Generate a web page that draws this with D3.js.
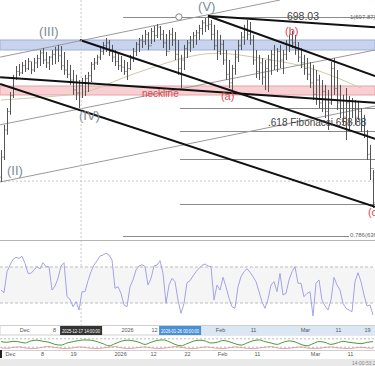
<!DOCTYPE html>
<html><head><meta charset="utf-8">
<script src="https://cdn.jsdelivr.net/npm/d3@7"></script>
<style>
html,body{margin:0;padding:0;background:#fff;}
svg{display:block;font-family:"Liberation Sans",Arial,sans-serif;}
</style></head><body>
<svg id="c" width="375" height="366"></svg>
<script>
// ---- price bars (one per bar index) ----
const highs = [651.5,660.3,666.2,671.8,677.8,680.9,681.6,682.3,683.0,683.7,682.3,683.7,684.8,686.5,687.2,685.8,684.4,686.5,687.6,688.3,
687.9,685.8,683.0,681.3,679.5,677.8,676.0,676.7,677.8,678.8,682.3,683.7,684.8,687.9,689.3,690.7,690.0,688.3,686.5,685.1,
684.4,683.0,682.3,684.8,687.2,689.3,690.7,691.8,693.5,692.8,694.2,694.9,695.6,694.9,693.5,692.1,693.5,694.2,692.8,690.0,
684.8,688.3,690.0,691.4,692.8,693.5,695.3,697.0,697.7,698.8,697.0,695.3,693.5,691.8,690.0,686.5,683.0,681.3,686.5,690.0,
692.8,695.3,697.0,696.3,691.8,686.5,684.8,683.7,683.0,684.8,686.5,688.3,687.2,688.3,686.5,690.0,691.8,693.2,691.8,689.3,
687.2,684.8,683.7,682.3,681.3,679.5,677.8,676.0,674.3,672.5,682.3,683.7,679.5,674.3,670.8,673.2,670.4,669.7,669.0,668.3,
666.2,663.8,658.5,653.3,644.5];
const lows = [640.3,648.0,656.8,663.8,669.7,676.0,677.4,678.1,678.8,679.5,678.1,678.8,680.2,680.9,681.6,680.2,679.5,681.3,681.6,682.3,
679.5,677.8,676.7,674.3,670.8,669.0,666.2,669.7,670.4,671.8,675.3,679.5,681.3,683.0,684.8,685.8,684.4,682.3,680.9,679.5,
678.8,677.8,676.0,679.5,682.3,684.4,685.8,687.2,688.3,686.5,688.6,689.3,690.7,690.0,687.2,684.4,686.5,687.9,683.0,677.8,
673.2,679.5,683.7,685.8,687.2,688.3,690.0,691.8,692.8,693.5,690.0,686.5,683.0,684.8,681.3,676.0,673.2,672.5,677.8,682.3,
686.5,688.3,690.0,688.3,681.3,676.7,676.0,674.3,672.5,671.8,677.8,679.5,678.8,680.2,678.1,683.0,685.8,687.2,684.8,682.3,
680.2,677.8,676.0,673.2,669.0,667.3,666.2,664.8,662.7,658.5,667.3,670.8,665.5,662.7,660.3,655.0,658.5,662.7,660.3,662.0,
657.8,655.7,648.0,641.0,631.2];
const closes = [649.0,658.5,665.0,670.5,676.5,679.0,678.5,681.0,680.0,682.5,679.5,682.0,683.5,685.5,683.0,682.0,684.0,685.0,686.5,684.5,
681.0,679.5,678.0,676.0,672.5,671.5,674.0,675.0,676.5,677.5,681.5,682.0,684.0,686.0,688.0,689.0,686.0,684.0,682.5,681.0,
680.5,679.0,680.0,683.5,686.0,688.5,690.0,689.5,692.0,688.0,693.0,691.5,694.5,692.0,689.0,686.0,692.0,690.0,685.0,680.0,
683.0,687.0,689.0,690.0,691.5,692.5,694.0,696.0,695.0,695.5,692.0,688.0,686.0,688.5,683.0,678.0,675.0,680.0,684.0,688.0,
691.0,694.0,692.0,690.0,683.0,679.0,682.0,677.0,680.0,683.0,685.0,681.0,686.0,683.0,685.0,688.5,690.0,689.0,686.5,684.0,
682.0,680.0,678.0,675.0,671.0,676.0,668.0,672.0,665.0,668.0,680.0,673.0,668.0,666.0,663.0,668.0,661.0,666.0,663.0,665.0,
660.0,657.0,650.0,645.0,633.0];
const firstOpen = 642.0;

// ---- RSI (one per bar index) ----
const rsi = [44.4,41.5,64.8,72.2,78.5,80.7,79.6,81.9,74.1,63.0,63.0,66.7,70.4,67.8,74.8,70.4,70.4,44.4,48.9,57.4,
71.1,74.8,37.0,34.1,25.9,31.5,22.2,42.6,42.6,54.8,64.8,72.2,77.0,82.2,83.3,85.2,83.3,77.8,46.3,48.1,
40.7,27.8,25.9,48.1,55.6,66.7,71.1,72.6,70.4,50.0,57.4,71.1,72.2,77.0,63.0,29.6,50.0,57.4,53.7,33.3,
18.5,29.6,52.6,54.8,60.0,64.8,68.5,71.9,73.3,71.1,70.4,33.3,50.0,44.4,58.5,48.1,35.2,25.9,24.1,48.1,
59.3,64.8,68.1,64.1,59.3,53.7,42.6,31.5,24.1,34.1,50.0,53.7,42.6,63.0,38.9,40.7,55.6,64.8,70.4,51.9,
51.9,37.0,40.7,42.6,15.6,51.9,55.6,33.3,26.7,22.2,33.3,58.5,50.0,44.4,29.6,24.1,22.2,20.4,53.7,63.7,
53.7,38.9,26.7,27.8,16.7];

// ---- lower oscillator (every 2 bars) ----
const oscFast = [60,55,62,58,50,65,70,62,55,40,35,50,60,68,72,70,60,45,30,45,62,70,66,55,40,55,68,72,60,40,30,45,62,70,65,50,55,68,60,45,35,50,66,72,60,50,40,55,65,58,40,30,45,60,55,40,50,62,55,50,45,55,60];
const oscSlow = [15,12,18,22,15,10,12,20,25,18,12,10,15,22,18,12,10,14,20,24,16,10,12,18,22,15,10,12,18,24,20,12,10,15,22,18,12,10,16,22,18,12,10,14,20,24,16,10,12,18,22,15,10,12,18,22,16,12,10,15,20,14,12];

// ---- moving average (every 10 bars) ----
const maIdx = [0,10,20,30,40,50,60,70,80,90,100,110,120];
const maVal = [669.0,669.7,670.4,671.8,676.7,680.2,683.7,685.8,684.8,683.0,681.3,677.8,673.2];

// ---- drawn trend lines [barIndex, price] ----
const thickLines = [
  [[-0.3,677.0],[124.7,668.0]],
  [[-0.3,674.6],[124.7,631.6]],
  [[26.3,690.0],[124.7,655.4]],
  [[69.0,698.4],[124.7,694.5]],
  [[69.0,698.4],[124.7,677.4]]
];
const thinLines = [
  [[-0.3,684.0],[93.0,704.0]],
  [[-0.3,640.3],[124.7,666.9]],
  [[-0.3,660.3],[124.7,686.5]]
];
// ---- horizontal fibonacci / levels ----
const levelPrice = [698.05,666.2,658.2,648.4,632.6,621.4];
const levelStart = [40.7,59.7,59.7,59.7,59.7,40.7];
const levelEnd   = [124.7,124.7,124.7,124.7,124.7,116.0];
const dottedLevel = 640.6;
const dottedBar = 26.7;
const blueZone = [686.5,690.0];
const pinkZone = [670.75,673.9];

// ---- annotations [text, barIndex, price] ----
const waveText = ["(II)","(III)","(IV)","(V)"];
const wavePos = [[2,642.6],[12.7,691.4],[26,662.0],[65.7,700.3]];
const redText = ["(a)","(b)","(c","neckline"];
const redPos = [[73.3,669.0],[94.7,691.8],[122.3,628.4],[47,670.1]];
const noteText = ["698.03",".618 Fibonacci 658.88"];
const notePos = [[95.3,697.0],[89,659.9]];
const tinyText = ["1(697.87)","0.786(636.55)"];
const tinyPos = [[116.3,697.4],[116.3,620.9]];
const markerPos = [59.3,698.05];

// ---- axis labels ----
const axis1Pos = [7.7,17.7,42,51.0,73,84,101.3,112.3,122];
const axis1Lab = ["Dec","8","2026","12","Feb","11","Mar","11","19"];
const axis2Pos = [3,13.7,24,39.7,50.7,62,73.7,85.3,104.7,116.3];
const axis2Lab = ["Dec","8","19","2026","12","22","Feb","11","Mar","11"];
const crossLab = ["2025-12-17 14:00:00","2026-01-26 00:00:00"];
const crossPos = [26.7,59.7];
const clockText = "14:00:53 2";

const svg = d3.select("#c");
const W = 375;
const x = d3.scaleLinear().domain([0,124]).range([1,373]);
const y = d3.scaleLinear().domain([620,704]).range([240,0]);
const yr = d3.scaleLinear().domain([0,100]).range([330,240]);
const yo = d3.scaleLinear().domain([0,100]).range([350,336]);

svg.append("defs").html('<clipPath id="mainClip"><rect x="0" y="0" width="375" height="240"/></clipPath><clipPath id="rsiClip"><rect x="0" y="241" width="375" height="85"/></clipPath><clipPath id="oscClip"><rect x="0" y="335" width="375" height="15"/></clipPath>');

const main = svg.append("g").attr("clip-path","url(#mainClip)");
main.append("rect").attr("x",0).attr("width",W).attr("y",y(blueZone[1])).attr("height",y(blueZone[0])-y(blueZone[1]))
  .attr("fill","#c8d3ee").attr("stroke","#9fb0dc").attr("stroke-width",1);
main.append("rect").attr("x",0).attr("width",W).attr("y",y(pinkZone[1])).attr("height",y(pinkZone[0])-y(pinkZone[1]))
  .attr("fill","#f8d0d3").attr("stroke","#eaa1a8").attr("stroke-width",1);
main.append("line").attr("x1",0).attr("x2",W).attr("y1",y(dottedLevel)).attr("y2",y(dottedLevel))
  .attr("stroke","#c8c8c8").attr("stroke-dasharray","2,2");
svg.append("line").attr("x1",x(dottedBar)).attr("x2",x(dottedBar)).attr("y1",0).attr("y2",326)
  .attr("stroke","#c8c8c8").attr("stroke-dasharray","2,2");
levelPrice.forEach((p,i)=>{
  main.append("line").attr("x1",x(levelStart[i])).attr("x2",x(levelEnd[i])).attr("y1",Math.round(y(p))+0.5).attr("y2",Math.round(y(p))+0.5)
   .attr("stroke","#8a8a8a").attr("stroke-width",1);
});
main.append("path").datum(maIdx.map((d,i)=>[d,maVal[i]]))
  .attr("d",d3.line().curve(d3.curveBasis).x(d=>x(d[0])).y(d=>y(d[1])))
  .attr("fill","none").attr("stroke","#cfc9a8").attr("stroke-width",1);
const ln = d3.line().x(d=>x(d[0])).y(d=>y(d[1]));
thinLines.forEach(l=>main.append("path").attr("d",ln(l)).attr("stroke","#9a9a9a").attr("stroke-width",1).attr("fill","none"));
const bars = main.append("g").attr("stroke","#555").attr("stroke-width",1);
highs.forEach((h,i)=>{
  const cx = Math.round(x(i))+0.5;
  const o = i===0?firstOpen:closes[i-1];
  bars.append("line").attr("x1",cx).attr("x2",cx).attr("y1",y(h)).attr("y2",y(lows[i]));
  bars.append("line").attr("x1",cx-1).attr("x2",cx).attr("y1",y(o)).attr("y2",y(o));
  bars.append("line").attr("x1",cx).attr("x2",cx+1).attr("y1",y(closes[i])).attr("y2",y(closes[i]));
});
thickLines.forEach(l=>main.append("path").attr("d",ln(l)).attr("stroke","#111").attr("stroke-width",2).attr("fill","none"));
main.append("circle").attr("cx",x(markerPos[0])).attr("cy",y(markerPos[1])).attr("r",3.2)
  .attr("fill","#fff").attr("stroke","#888").attr("stroke-width",1);
waveText.forEach((t,i)=>main.append("text").attr("x",x(wavePos[i][0])).attr("y",y(wavePos[i][1])).text(t)
  .attr("font-size",13).attr("fill","#7d8a98"));
redText.forEach((t,i)=>main.append("text").attr("x",x(redPos[i][0])).attr("y",y(redPos[i][1])).text(t)
  .attr("font-size",i===3?10:11).attr("fill","#e0474c"));
noteText.forEach((t,i)=>main.append("text").attr("x",x(notePos[i][0])).attr("y",y(notePos[i][1])).text(t)
  .attr("font-size",i===0?10.5:10).attr("fill","#444"));
tinyText.forEach((t,i)=>main.append("text").attr("x",x(tinyPos[i][0])).attr("y",y(tinyPos[i][1])).text(t)
  .attr("font-size",6).attr("fill","#666"));

svg.append("line").attr("x1",0).attr("x2",W).attr("y1",240.5).attr("y2",240.5).attr("stroke","#b5b5b5");

const rp = svg.append("g");
rp.append("rect").attr("x",0).attr("width",W).attr("y",yr(70)).attr("height",yr(30)-yr(70)).attr("fill","#f5f5f5");
[70,30].forEach(v=>rp.append("line").attr("x1",0).attr("x2",W).attr("y1",yr(v)).attr("y2",yr(v))
  .attr("stroke","#bdbdbd").attr("stroke-dasharray","3,2"));
rp.append("path").datum(rsi).attr("clip-path","url(#rsiClip)")
  .attr("d",d3.line().x((d,i)=>x(i)).y(d=>yr(d)))
  .attr("fill","none").attr("stroke","#a3a3ea").attr("stroke-width",1);

const a1 = svg.append("g");
a1.append("rect").attr("x",0).attr("y",325.5).attr("width",W).attr("height",9.5).attr("fill","#fff").attr("stroke","#cfcfcf");
a1.append("rect").attr("x",x(crossPos[1])-2).attr("y",326).attr("width",W).attr("height",9).attr("fill","#dce7f5");
const ax1 = d3.axisBottom(x).tickValues(axis1Pos).tickFormat((d,i)=>axis1Lab[i]).tickSize(0).tickPadding(0);
const g1 = a1.append("g").attr("transform","translate(0,328)").call(ax1);
g1.select(".domain").remove();
g1.selectAll("text").attr("font-size",5.5).attr("fill","#555").attr("font-family","Liberation Sans, Arial, sans-serif");
const boxCol = ["#333","#4a90d9"];
crossLab.forEach((t,i)=>{
  const cx = x(crossPos[i]);
  a1.append("rect").attr("x",cx-21).attr("y",326).attr("width",42).attr("height",9).attr("fill",boxCol[i]);
  a1.append("text").attr("x",cx).attr("y",332.5).attr("text-anchor","middle").attr("font-size",4.6)
    .attr("textLength",38).attr("lengthAdjust","spacingAndGlyphs").attr("fill","#fff").text(t);
});

const op = svg.append("g");
[80,20].forEach(v=>op.append("line").attr("x1",0).attr("x2",W).attr("y1",yo(v)).attr("y2",yo(v))
  .attr("stroke","#bbb").attr("stroke-dasharray","2,2"));
op.append("path").datum(oscSlow).attr("clip-path","url(#oscClip)")
  .attr("d",d3.line().curve(d3.curveMonotoneX).x((d,i)=>x(i*2)).y(d=>yo(d)))
  .attr("fill","none").attr("stroke","#d98f8f").attr("stroke-width",0.8);
op.append("path").datum(oscFast).attr("clip-path","url(#oscClip)")
  .attr("d",d3.line().curve(d3.curveMonotoneX).x((d,i)=>x(i*2)).y(d=>yo(d)))
  .attr("fill","none").attr("stroke","#4e9a3c").attr("stroke-width",1);

const a2 = svg.append("g");
a2.append("rect").attr("x",0).attr("y",350).attr("width",W).attr("height",9).attr("fill","#fff");
a2.append("line").attr("x1",0).attr("x2",W).attr("y1",350.5).attr("y2",350.5).attr("stroke","#d0d0d0");
a2.append("rect").attr("x",0).attr("y",350).attr("width",2).attr("height",8).attr("fill","#222");
const ax2 = d3.axisBottom(x).tickValues(axis2Pos).tickFormat((d,i)=>axis2Lab[i]).tickSize(0).tickPadding(0);
const g2 = a2.append("g").attr("transform","translate(0,352)").call(ax2);
g2.select(".domain").remove();
g2.selectAll("text").attr("font-size",5.5).attr("fill","#555").attr("font-family","Liberation Sans, Arial, sans-serif");
svg.append("rect").attr("x",0).attr("y",359).attr("width",W).attr("height",7).attr("fill","#e9e9e9");
svg.append("text").attr("x",352).attr("y",364.5).attr("font-size",5).attr("fill","#888").text(clockText);
</script>
</body></html>
